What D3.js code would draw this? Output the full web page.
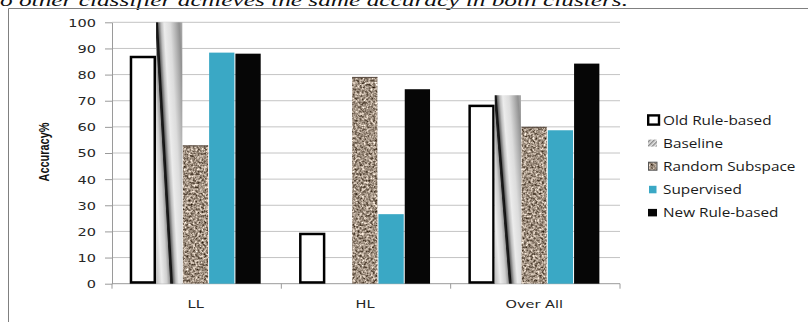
<!DOCTYPE html>
<html><head><meta charset="utf-8">
<script src="https://cdn.jsdelivr.net/npm/d3@7"></script>
<style>body{margin:0;background:#fff}svg{display:block}</style>
</head><body><svg id="c" width="808" height="322"></svg>
<script>
const caption = "o other classifier achieves the same accuracy in both clusters.";
const categories = ["LL", "HL", "Over All"];
const seriesNames = ["Old Rule-based", "Baseline", "Random Subspace", "Supervised", "New Rule-based"];
const oldRuleBased = [87.2, 19.5, 68.5];
const baseline = [100, 0, 72.1];
const randomSubspace = [52.9, 79.1, 60.0];
const supervised = [88.4, 26.6, 58.7];
const newRuleBased = [88.0, 74.4, 84.2];
const yTicks = [0, 10, 20, 30, 40, 50, 60, 70, 80, 90, 100];
const yTitle = "Accuracy%";

const seriesValues = [oldRuleBased, baseline, randomSubspace, supervised, newRuleBased];
const svg = d3.select("#c");
const defs = svg.append("defs");

// granite texture filter
const f = defs.append("filter").attr("id", "granite").attr("x", 0).attr("y", 0).attr("width", 1).attr("height", 1)
  .attr("color-interpolation-filters", "sRGB");
f.append("feTurbulence").attr("type", "fractalNoise").attr("baseFrequency", 0.45).attr("numOctaves", 3).attr("seed", 7).attr("result", "n");
f.append("feColorMatrix").attr("in", "n").attr("type", "matrix")
  .attr("values", "1.25 0 0 0 0.0  1.25 0 0 0 -0.06  1.25 0 0 0 -0.12  0 0 0 0 1").attr("result", "c");
f.append("feComposite").attr("in", "c").attr("in2", "SourceGraphic").attr("operator", "in");

// legend hatch
const pat = defs.append("pattern").attr("id", "hatch").attr("patternUnits", "userSpaceOnUse")
  .attr("width", 3).attr("height", 3).attr("patternTransform", "rotate(-45)");
pat.append("rect").attr("width", 3).attr("height", 3).attr("fill", "#e6e6e6");
pat.append("rect").attr("width", 3).attr("height", 1.4).attr("fill", "#8a8a8a");

// caption (document text above chart)
svg.append("text").attr("x", 0).attr("y", 6)
  .attr("font-family", "Liberation Serif, serif").attr("font-style", "italic").attr("font-size", 17)
  .attr("textLength", 628).attr("lengthAdjust", "spacingAndGlyphs").attr("fill", "#111").text(caption);

// chart border
svg.append("path").attr("d", "M8.5,322V8.5H808").attr("fill", "none").attr("stroke", "#808080");

const plot = {left: 112, right: 620, top: 22.3, bottom: 283.7};
const x0 = d3.scaleBand().domain(categories).range([plot.left, plot.right]);
const x1 = d3.scaleBand().domain(seriesNames).range([-1.2, x0.bandwidth() - 1.2]).paddingOuter(0.72).paddingInner(0);
const y = d3.scaleLinear().domain([0, 100]).range([plot.bottom, plot.top]);
const bw = x1.bandwidth();

// gridlines
svg.append("g").selectAll("line").data(yTicks.filter(t => t > 0)).join("line")
  .attr("x1", plot.left).attr("x2", plot.right)
  .attr("y1", d => y(d)).attr("y2", d => y(d)).attr("stroke", "#c4c4c4");

// y axis
const yAxis = svg.append("g").attr("transform", `translate(${plot.left},0)`)
  .call(d3.axisLeft(y).tickValues(yTicks).tickSize(7).tickSizeOuter(0).tickFormat(d3.format("d")));
yAxis.select(".domain").attr("stroke", "#9a9a9a");
yAxis.selectAll(".tick line").attr("stroke", "#9a9a9a");
yAxis.selectAll(".tick text").attr("x", 0).attr("dy", "0.36em")
  .attr("transform", "translate(-16,0) scale(1.32,1)")
  .attr("font-family", "DejaVu Sans, sans-serif").attr("font-size", 11).attr("fill", "#262626");

// x axis
svg.append("line").attr("x1", plot.left).attr("x2", plot.right).attr("y1", y(0)).attr("y2", y(0)).attr("stroke", "#9a9a9a");
const bounds = categories.map(c => x0(c)).concat([plot.right]);
svg.append("g").selectAll("line").data(bounds).join("line")
  .attr("x1", d => d).attr("x2", d => d).attr("y1", y(0)).attr("y2", y(0) + 5).attr("stroke", "#9a9a9a");
svg.append("g").selectAll("text").data(categories).join("text")
  .attr("transform", d => `translate(${x0(d) + x0.bandwidth() / 2 - 1},308) scale(1.32,1)`)
  .attr("text-anchor", "middle").attr("font-family", "DejaVu Sans, sans-serif").attr("font-size", 11)
  .attr("fill", "#262626").text(d => d);

// baseline gradients (tilted cylinder look)
const gStops = [[-17, "#8c8c8c"], [-14, "#c2c2c2"], [-9, "#ececec"], [-4, "#cfcfcf"], [-1.2, "#9a9a9a"], [-0.4, "#222"],
  [1.4, "#111"], [2.4, "#6a6a6a"], [5, "#bdbdbd"], [8, "#ececec"], [14, "#dcdcdc"], [19, "#b4b4b4"], [23, "#929292"], [26, "#acacac"]];
const skewShift = 15;

const bars = svg.append("g");
seriesNames.forEach((s, si) => {
  const vals = seriesValues[si];
  categories.forEach((c, ci) => {
    const v = vals[ci];
    if (v <= 0) return;
    const xb = x0(c) + x1(s);
    const yt = y(v), yb = y(0);
    if (si === 0) {
      bars.append("rect").attr("x", xb + 1.25).attr("y", yt + 1.25).attr("width", bw - 2.5).attr("height", yb - yt - 2.5)
        .attr("fill", "#fff").attr("stroke", "#000").attr("stroke-width", 2.5);
    } else if (si === 1) {
      const h = yb - yt;
      const ang = Math.atan(skewShift / h) * 180 / Math.PI;
      const gid = "bgrad" + ci;
      const g = defs.append("linearGradient").attr("id", gid).attr("gradientUnits", "userSpaceOnUse")
        .attr("x1", xb - 17).attr("x2", xb + 26).attr("y1", yt).attr("y2", yt)
        .attr("gradientTransform", `translate(0,${yt}) skewX(${ang}) translate(0,${-yt})`);
      gStops.forEach(([u, col]) => g.append("stop").attr("offset", (u + 17) / 43).attr("stop-color", col));
      bars.append("rect").attr("x", xb).attr("y", yt).attr("width", bw).attr("height", h).attr("fill", `url(#${gid})`);
    } else if (si === 2) {
      bars.append("rect").attr("x", xb + 0.5).attr("y", yt).attr("width", bw - 1).attr("height", yb - yt)
        .attr("fill", "#a89888").attr("filter", "url(#granite)");
      bars.append("line").attr("x1", xb + 0.5).attr("x2", xb + bw - 0.5).attr("y1", yt + 0.5).attr("y2", yt + 0.5)
        .attr("stroke", "#5a4c42").attr("stroke-width", 1);
    } else {
      bars.append("rect").attr("x", xb + 0.5).attr("y", yt).attr("width", bw - 1).attr("height", yb - yt)
        .attr("fill", si === 3 ? "#3aa8c5" : "#060606");
    }
  });
});

// y title
svg.append("text").attr("transform", "translate(44,152) rotate(-90) scale(1,1.3)")
  .attr("text-anchor", "middle").attr("dy", "0.36em")
  .attr("font-family", "Liberation Sans Narrow, Liberation Sans, sans-serif").attr("font-weight", "bold").attr("font-size", 11)
  .attr("textLength", 59).attr("lengthAdjust", "spacingAndGlyphs").attr("fill", "#111").text(yTitle);

// legend
const leg = svg.append("g");
seriesNames.forEach((s, i) => {
  const cy = 120 + i * 23.1;
  if (i === 0) {
    leg.append("rect").attr("x", 648.2).attr("y", cy - 4.6).attr("width", 10.8).attr("height", 9.2)
      .attr("fill", "#fff").attr("stroke", "#000").attr("stroke-width", 2.4);
  } else if (i === 1) {
    leg.append("rect").attr("x", 648).attr("y", cy - 3.5).attr("width", 9).attr("height", 7).attr("fill", "url(#hatch)");
  } else if (i === 2) {
    leg.append("rect").attr("x", 648.5).attr("y", cy - 4).attr("width", 8.5).attr("height", 8)
      .attr("fill", "#a89888").attr("filter", "url(#granite)");
    leg.append("rect").attr("x", 648.5).attr("y", cy - 4).attr("width", 8.5).attr("height", 8)
      .attr("fill", "none").attr("stroke", "#555").attr("stroke-width", 1);
  } else {
    leg.append("rect").attr("x", i === 3 ? 649 : 648).attr("y", cy - 3.5).attr("width", i === 3 ? 7.5 : 9).attr("height", 7.5)
      .attr("fill", i === 3 ? "#3aa8c5" : "#060606");
  }
  leg.append("text").attr("transform", `translate(663,${cy + 4.6}) scale(1.18,1)`)
    .attr("font-family", "Open Sans, sans-serif").attr("font-size", 13).attr("fill", "#1a1a1a").text(s);
});
</script></body></html>
